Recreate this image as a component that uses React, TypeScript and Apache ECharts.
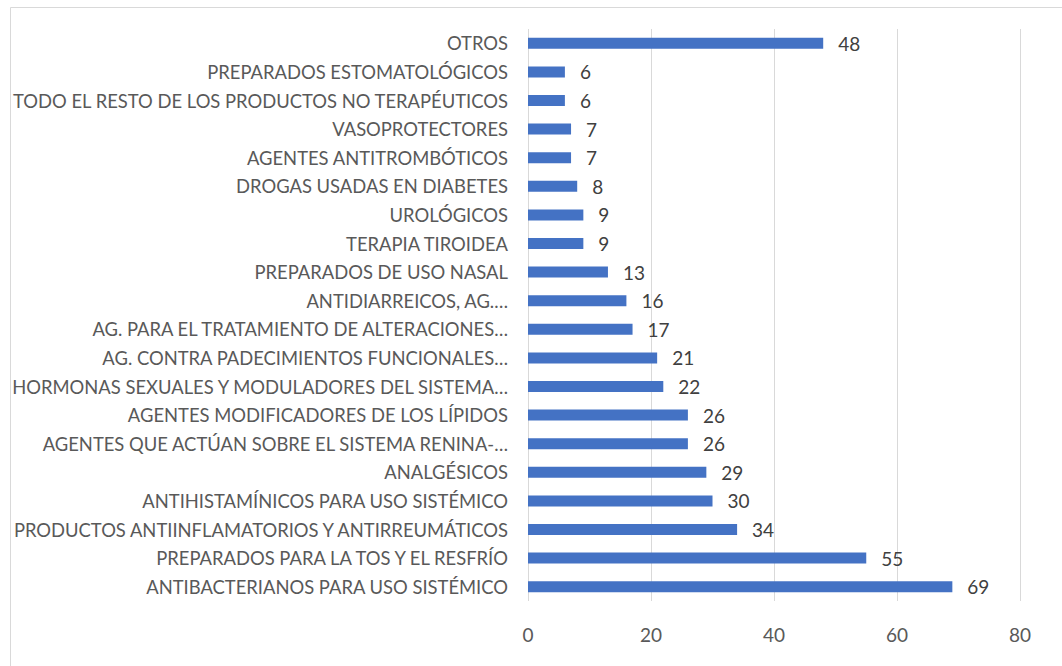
import React, { useEffect, useRef } from "react";
import * as echarts from "echarts";

const categories: string[] = [
  "ANTIBACTERIANOS PARA USO SISTÉMICO",
  "PREPARADOS PARA LA TOS Y EL RESFRÍO",
  "PRODUCTOS ANTIINFLAMATORIOS Y ANTIRREUMÁTICOS",
  "ANTIHISTAMÍNICOS PARA USO SISTÉMICO",
  "ANALGÉSICOS",
  "AGENTES QUE ACTÚAN SOBRE EL SISTEMA RENINA-…",
  "AGENTES MODIFICADORES DE LOS LÍPIDOS",
  "HORMONAS SEXUALES Y MODULADORES DEL SISTEMA…",
  "AG. CONTRA PADECIMIENTOS FUNCIONALES…",
  "AG. PARA EL TRATAMIENTO DE ALTERACIONES…",
  "ANTIDIARREICOS, AG.…",
  "PREPARADOS DE USO NASAL",
  "TERAPIA TIROIDEA",
  "UROLÓGICOS",
  "DROGAS USADAS EN DIABETES",
  "AGENTES ANTITROMBÓTICOS",
  "VASOPROTECTORES",
  "TODO EL RESTO DE LOS PRODUCTOS NO TERAPÉUTICOS",
  "PREPARADOS ESTOMATOLÓGICOS",
  "OTROS",
];

const values: number[] = [69, 55, 34, 30, 29, 26, 26, 22, 21, 17, 16, 13, 9, 9, 8, 7, 7, 6, 6, 48];

const axisMin = 0;
const axisMax = 80;
const axisStep = 20;

const FONT = "Lato";

export default function App() {
  const ref = useRef<HTMLDivElement>(null);
  useEffect(() => {
    if (!ref.current) return;
    const chart = echarts.init(ref.current, null, { renderer: "svg" });
    chart.setOption({
      animation: false,
      backgroundColor: "#ffffff",
      textStyle: { fontFamily: FONT },
      graphic: [
        {
          type: "rect",
          shape: { x: 10.5, y: 7.5, width: 1100, height: 700 },
          style: { fill: "none", stroke: "#d9d9d9", lineWidth: 1 },
          silent: true,
        },
      ],
      grid: { left: 528, right: 42, top: 29, bottom: 65, containLabel: false },
      xAxis: {
        type: "value",
        min: axisMin,
        max: axisMax,
        interval: axisStep,
        axisLine: { show: false },
        axisTick: { show: false },
        splitLine: { show: true, lineStyle: { color: "#d9d9d9", width: 1 } },
        axisLabel: { color: "#595959", fontSize: 19, fontFamily: FONT, margin: 24 },
      },
      yAxis: {
        type: "category",
        data: categories,
        axisLine: { show: false },
        axisTick: { show: false },
        axisLabel: { color: "#595959", fontSize: 18.4, fontFamily: FONT, margin: 20 },
      },
      series: [
        {
          type: "bar",
          data: values,
          barWidth: 11,
          itemStyle: { color: "#4472C4" },
          label: {
            show: true,
            position: "right",
            distance: 15,
            color: "#404040",
            fontSize: 19,
            fontFamily: FONT,
          },
        },
      ],
    });
    return () => chart.dispose();
  }, []);
  return (
    <div
      ref={ref}
      style={{ position: "fixed", left: 0, top: 0, width: 1062, height: 666, background: "#fff" }}
    />
  );
}
